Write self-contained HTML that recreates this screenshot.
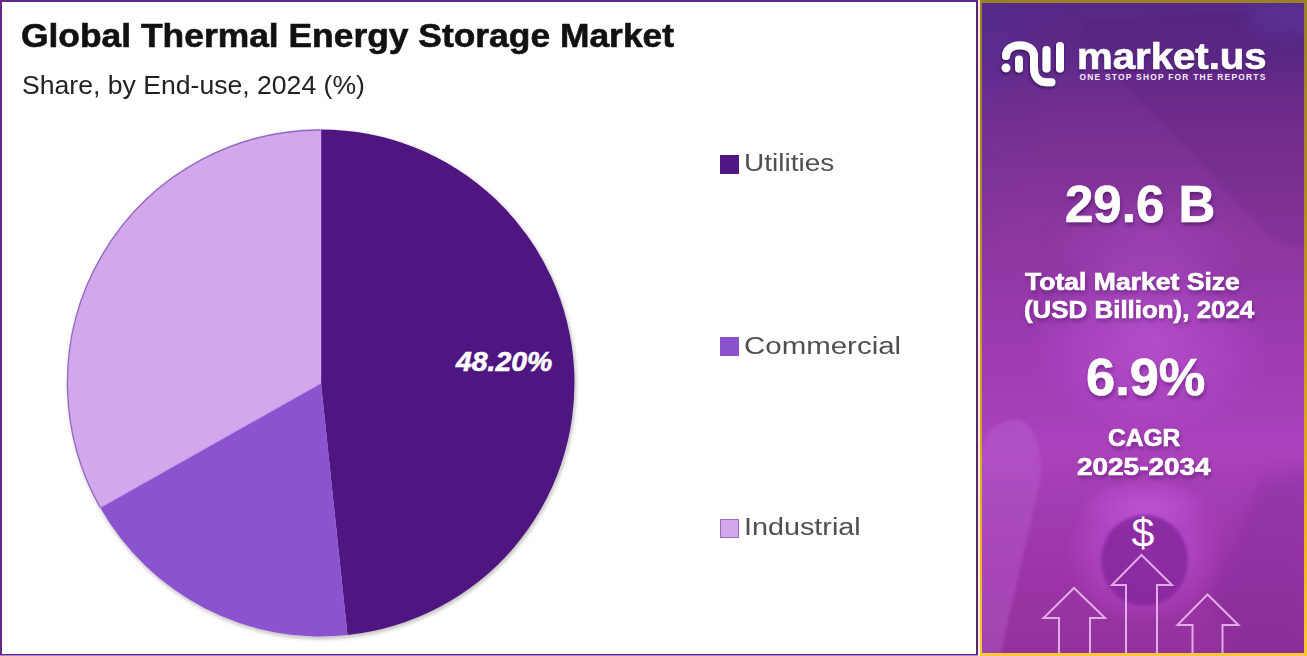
<!DOCTYPE html>
<html><head><meta charset="utf-8">
<style>
*{margin:0;padding:0;box-sizing:border-box;}
html,body{width:1307px;height:656px;overflow:hidden;background:#fff;}
body{position:relative;font-family:"Liberation Sans",sans-serif;}
#left{position:absolute;left:0;top:0;width:978px;height:655px;border:2px solid #67268a;border-right-color:#5a2672;border-bottom:1px solid #62287e;background:#fff;}
#lb{position:absolute;left:0;top:655px;width:978px;height:1px;background:#b47ed4;}
.t{position:absolute;white-space:nowrap;transform-origin:0 0;line-height:1;}
#title{left:21px;top:19px;font-size:33px;font-weight:bold;color:#111;-webkit-text-stroke:0.6px #111;transform:scaleX(1.0726);}
#sub{left:21.7px;top:73.3px;font-size:25px;color:#222;transform:scaleX(1.0637);}
#pie{position:absolute;left:0;top:0;}
.lg{position:absolute;width:19px;height:19px;left:720px;}
.lt{position:absolute;font-size:24.7px;line-height:1;color:#4f4f4f;white-space:nowrap;transform-origin:0 0;left:745px;}
#right{position:absolute;left:979px;top:0;width:328px;height:656px;
 background:linear-gradient(180deg,#9c8026 0%,#b08a22 30%,#d8a020 60%,#f6b41e 85%,#fbc63a 100%);}
#gapl{position:absolute;left:978px;top:0;width:2px;height:656px;background:linear-gradient(180deg,#f4e6d8,#fff2d0);}
.w{position:absolute;color:#fff;font-weight:bold;white-space:nowrap;transform-origin:0 0;line-height:1;text-shadow:1px 3px 4px rgba(50,0,70,.45);-webkit-text-stroke:0.7px #fff;}
</style></head><body>
<div id="left"></div><div id="lb"></div>
<div class="t" id="title">Global Thermal Energy Storage Market</div>
<div class="t" id="sub">Share, by End-use, 2024 (%)</div>
<svg id="pie" width="978" height="656" viewBox="0 0 978 656">
 <defs><filter id="sh" x="-10%" y="-10%" width="120%" height="120%"><feDropShadow dx="1" dy="2" stdDeviation="2" flood-color="#202010" flood-opacity="0.32"/></filter></defs>
 <g filter="url(#sh)">
  <path d="M321 383L321.00 129.50A253.5 253.5 0 0 1 347.50 635.11Z" fill="#501782"/>
  <path d="M321 383L347.50 635.11A253.5 253.5 0 0 1 100.15 507.44Z" fill="#8c52ce"/>
  <path d="M321 383L100.15 507.44A253.5 253.5 0 0 1 321.00 129.50Z" fill="#d2a8ed"/>
 </g>
 <path d="M100.15 507.44A253 253 0 0 1 320.56 130" fill="none" stroke="#9466c4" stroke-width="1.3"/>
 <line x1="321" y1="383" x2="101" y2="507" stroke="#c69af0" stroke-width="1.2"/>
 <line x1="321.6" y1="130" x2="321.6" y2="383" stroke="#6a30b0" stroke-width="1"/>
 <text x="456" y="370.8" transform="translate(456 0) scale(1.015 1) translate(-456 0)" font-family="Liberation Sans" font-weight="bold" font-style="italic" font-size="28" fill="#fff" stroke="#fff" stroke-width="0.6">48.20%</text>
</svg>
<div class="lg" style="top:155px;background:#501782"></div>
<div class="lt" id="l1" style="left:744px;top:150.9px;transform:scaleX(1.134)">Utilities</div>
<div class="lg" style="top:337px;background:#8c52ce"></div>
<div class="lt" id="l2" style="left:744px;top:333.9px;transform:scaleX(1.193)">Commercial</div>
<div class="lg" style="top:519px;background:#d2a8ed;border:1px solid #9a6cc0"></div>
<div class="lt" id="l3" style="left:744.3px;top:515px;transform:scaleX(1.165)">Industrial</div>

<div id="right"></div><div id="gapl"></div>
<svg id="bg" style="position:absolute;left:982px;top:3px" width="322" height="650" viewBox="982 3 322 650">
 <defs>
  <linearGradient id="gv" x1="0" y1="0" x2="0" y2="656" gradientUnits="userSpaceOnUse">
   <stop offset="0" stop-color="#562885"/>
   <stop offset="0.09" stop-color="#5f2a8a"/>
   <stop offset="0.152" stop-color="#6f2d90"/>
   <stop offset="0.229" stop-color="#7c3194"/>
   <stop offset="0.381" stop-color="#8e37a2"/>
   <stop offset="0.518" stop-color="#9c3ab0"/>
   <stop offset="0.686" stop-color="#aa42bc"/>
   <stop offset="0.762" stop-color="#a23cb2"/>
   <stop offset="0.854" stop-color="#9d36aa"/>
   <stop offset="0.945" stop-color="#9833a2"/>
   <stop offset="1" stop-color="#94309e"/>
  </linearGradient>
  <radialGradient id="gtl" cx="0" cy="0" r="1">
   <stop offset="0" stop-color="#4a34a0" stop-opacity=".6"/>
   <stop offset="1" stop-color="#4a34a0" stop-opacity="0"/>
  </radialGradient>
  <radialGradient id="glow" cx="0.5" cy="0.5" r="0.5">
   <stop offset="0" stop-color="#d466f0" stop-opacity=".55"/>
   <stop offset="0.6" stop-color="#d466f0" stop-opacity=".25"/>
   <stop offset="1" stop-color="#d466f0" stop-opacity="0"/>
  </radialGradient>
  <filter id="bl8" x="-50%" y="-50%" width="200%" height="200%"><feGaussianBlur stdDeviation="8"/></filter>
  <filter id="bl4" x="-50%" y="-50%" width="200%" height="200%"><feGaussianBlur stdDeviation="4"/></filter>
  <filter id="bl2" x="-50%" y="-50%" width="200%" height="200%"><feGaussianBlur stdDeviation="1.5"/></filter>
 </defs>
 <rect x="982" y="3" width="322" height="650" fill="url(#gv)"/>
 <ellipse cx="985" cy="5" rx="140" ry="100" fill="url(#gtl)"/>
 <ellipse cx="985" cy="170" rx="80" ry="150" fill="url(#gtl)" opacity=".35"/>
 <path d="M1088 22 Q1080 24 1082 40 L1270 236 Q1282 246 1307 248 L1307 40 Q1290 14 1240 12 Z" fill="#3a0e58" opacity=".09" filter="url(#bl2)"/>
 <ellipse cx="1285" cy="18" rx="40" ry="22" fill="#5a44b0" opacity=".25" filter="url(#bl8)"/>
 <ellipse cx="1150" cy="340" rx="120" ry="95" fill="url(#glow)" opacity=".75"/>
 <ellipse cx="1150" cy="240" rx="110" ry="50" fill="url(#glow)" opacity=".35"/>
 <path d="M978 470 Q982 418 1018 420 Q1040 424 1041 470 L1040 482 L999 660 L978 660 Z" fill="#c068d6" opacity=".35" filter="url(#bl2)"/>
 <ellipse cx="1145" cy="550" rx="80" ry="75" fill="url(#glow)"/>
 <ellipse cx="1145" cy="505" rx="70" ry="25" fill="url(#glow)" opacity=".6"/>
 <ellipse cx="1144.5" cy="560.5" rx="43.5" ry="45.5" fill="#86289c" opacity=".85" filter="url(#bl2)"/>
 <polygon points="1210,600 1260,480 1310,470 1310,660 1230,660" fill="#70208a" opacity=".25" filter="url(#bl8)"/>
 <g fill="none" stroke="#f0c0f4" stroke-width="2" opacity=".85">
  <polyline points="1126,660 1126,585 1112,585 1141.5,555 1172,585 1157,585 1157,660"/>
  <polyline points="1059,660 1059,618 1043.5,618 1074,588 1105,618 1090,618 1090,660"/>
  <polyline points="1192.5,660 1192.5,625 1177.5,625 1207.5,594.5 1238.5,625 1222.5,625 1222.5,660"/>
 </g>
 <text x="1143" y="547" text-anchor="middle" font-family="Liberation Sans" font-size="41" fill="#fff">$</text>
</svg>
<svg id="logoic" style="position:absolute;left:995px;top:35px" width="75" height="56" viewBox="995 35 75 56">
 <defs><filter id="lsh" x="-30%" y="-30%" width="160%" height="160%"><feDropShadow dx="-0.5" dy="1.5" stdDeviation="1.5" flood-color="#2a0a45" flood-opacity=".85"/></filter></defs>
 <g filter="url(#lsh)" fill="none" stroke="#fff" stroke-width="8" stroke-linecap="round">
  <path d="M1006 56 C1006 41.5 1034 41.5 1034 56 L1034 68 C1034 78 1040 82.3 1047 82.3 L1051.5 82.3"/>
  <line x1="1019" y1="59.5" x2="1019" y2="68.5"/>
  <line x1="1046.5" y1="50" x2="1046.5" y2="68.5"/>
  <line x1="1060" y1="46" x2="1060" y2="68.5"/>
  <circle cx="1006" cy="67.8" r="4.4" fill="#fff" stroke="none"/>
 </g>
</svg>
<div class="w" id="v1" style="left:1065px;top:177.6px;font-size:52px;transform:scaleX(0.981)">29.6 B</div>
<div class="w" id="v2" style="left:1024.5px;top:270.3px;font-size:24.5px;transform:scaleX(1.083)">Total Market Size</div>
<div class="w" id="v3" style="left:1023.5px;top:298.1px;font-size:24.5px;transform:scaleX(1.057)">(USD Billion), 2024</div>
<div class="w" id="v4" style="left:1085.5px;top:351.8px;font-size:51px;transform:scaleX(1.027)">6.9%</div>
<div class="w" id="v5" style="left:1108px;top:427.1px;font-size:23.5px;transform:scaleX(1.046)">CAGR</div>
<div class="w" id="v6" style="left:1077px;top:455.1px;font-size:24.5px;transform:scaleX(1.14)">2025-2034</div>
<div class="w" id="logo" style="left:1077px;top:38.3px;font-size:37px;text-shadow:0 1.5px 2px rgba(40,5,70,.55);transform:scaleX(1.085)">market.us</div>
<div class="w" id="tag" style="left:1079.5px;top:72.9px;font-size:8.4px;letter-spacing:1.25px;text-shadow:none;-webkit-text-stroke:0;color:#f8ecf8">ONE STOP SHOP FOR THE REPORTS</div>
</body></html>
